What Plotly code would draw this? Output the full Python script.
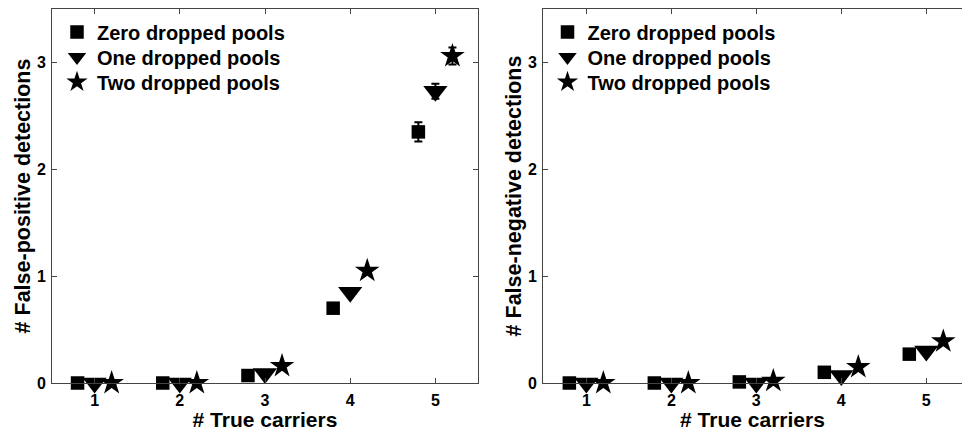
import plotly.graph_objects as go

carriers = [1, 2, 3, 4, 5]
offsets = [-0.2, 0.0, 0.2]
series_names = ["Zero dropped pools", "One dropped pools", "Two dropped pools"]
symbols = ["square", "triangle-down", "star"]
sizes = [13.5, 21, 18.5]

# False-positive detections (left panel)
fp_zero = [0.0, 0.0, 0.07, 0.70, 2.35]
fp_one = [0.0, 0.0, 0.09, 0.85, 2.73]
fp_two = [0.0, 0.0, 0.16, 1.05, 3.06]
fp_zero_err = [0, 0, 0, 0, 0.09]
fp_one_err = [0, 0, 0, 0, 0.07]
fp_two_err = [0, 0, 0, 0, 0.08]

# False-negative detections (right panel)
fn_zero = [0.0, 0.0, 0.01, 0.10, 0.27]
fn_one = [0.0, 0.0, 0.0, 0.07, 0.30]
fn_two = [0.0, 0.0, 0.02, 0.15, 0.39]
fn_zero_err = [0, 0, 0, 0, 0]
fn_one_err = [0, 0, 0, 0, 0]
fn_two_err = [0, 0, 0, 0, 0]

x_ticks = [1, 2, 3, 4, 5]
y_ticks = [0, 1, 2, 3]

FONT = "Liberation Sans, Arial, sans-serif"

fig = go.Figure()

panels = [
    ("x", "y", ["legend", "legend2", "legend3"], 57, [fp_zero, fp_one, fp_two],
     [fp_zero_err, fp_one_err, fp_two_err]),
    ("x2", "y2", ["legend4", "legend5", "legend6"], 547.5, [fn_zero, fn_one, fn_two],
     [fn_zero_err, fn_one_err, fn_two_err]),
]
row_centers = [32, 57, 82]

legend_layouts = {}
for xa, ya, lgs, lgx, vals, errs in panels:
    for i in range(3):
        fig.add_trace(go.Scatter(
            x=[c + offsets[i] for c in carriers],
            y=vals[i],
            mode="markers",
            name=series_names[i],
            xaxis=xa, yaxis=ya, legend=lgs[i],
            cliponaxis=False,
            marker=dict(symbol=symbols[i], size=sizes[i], color="black",
                        line=dict(width=0)),
            error_y=dict(type="data", array=errs[i], color="black",
                         thickness=2, width=4),
        ))
        legend_layouts[lgs[i]] = dict(
            x=lgx/962, y=1-row_centers[i]/431, xanchor="left", yanchor="middle",
            bgcolor="rgba(0,0,0,0)", borderwidth=0, tracegroupgap=0,
            font=dict(family=FONT, size=20, color="black", weight="bold"))

axis_common = dict(
    showgrid=False, zeroline=False, showline=True, linecolor="#444",
    linewidth=1, ticks="inside", ticklen=5, tickwidth=1, tickcolor="#444",
    automargin=False,
    tickfont=dict(family=FONT, size=16, color="black", weight="bold"),
)

title_font_x = dict(family=FONT, size=21, color="black", weight="bold")
title_font_y = dict(family=FONT, size=21.5, color="black", weight="bold")

fig.update_layout(
    width=962, height=431,
    margin=dict(l=0, r=0, t=0, b=0),
    paper_bgcolor="white", plot_bgcolor="white",
    font=dict(family=FONT, color="black"),
    xaxis=dict(domain=[52/962, 478/962], range=[0.5, 5.5], tickvals=x_ticks,
               mirror="ticks", anchor="y", ticklabelstandoff=3,
               title=dict(text="# True carriers", font=title_font_x),
               **axis_common),
    yaxis=dict(domain=[1-383/431, 1-9/431], range=[0, 3.5], tickvals=y_ticks,
               mirror="ticks", anchor="x", ticklabelstandoff=2,
               title=dict(text="# False-positive detections", standoff=0, font=title_font_y),
               **axis_common),
    xaxis2=dict(domain=[543/962, 1.0], range=[0.49, 5.42], tickvals=x_ticks,
                mirror="ticks", anchor="y2", ticklabelstandoff=3,
                title=dict(text="# True carriers", font=title_font_x),
                **axis_common),
    yaxis2=dict(domain=[1-383/431, 1-9/431], range=[0, 3.5], tickvals=y_ticks,
                mirror=False, anchor="x2", ticklabelstandoff=2,
                title=dict(text="# False-negative detections", standoff=0, font=title_font_y),
                **axis_common),
    showlegend=True,
    **legend_layouts,
)

fig.write_html("out.html")
